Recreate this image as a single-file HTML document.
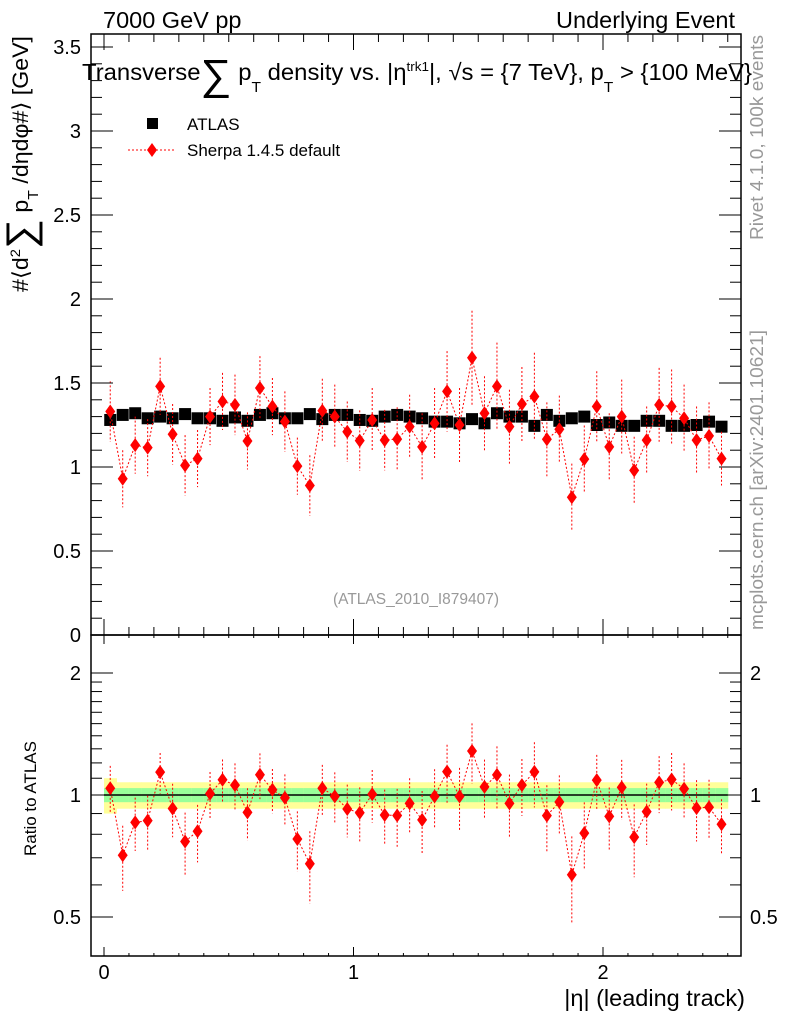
<!DOCTYPE html>
<html><head><meta charset="utf-8"><style>
body{margin:0;background:#fff}
svg{display:block;font-family:"Liberation Sans",sans-serif}
</style></head><body>
<svg id="c" width="786" height="1024" viewBox="0 0 786 1024" xmlns="http://www.w3.org/2000/svg">
<text x="103" y="28" font-size="23.5">7000 GeV pp</text>
<text x="735" y="28" font-size="23.5" text-anchor="end">Underlying Event</text>
<text x="82" y="80" font-size="23" textLength="670" lengthAdjust="spacingAndGlyphs">Transverse<tspan font-size="42" dy="9">∑</tspan><tspan dy="-9"> p</tspan><tspan font-size="15" dy="12">T</tspan><tspan dy="-12"> density vs. |η</tspan><tspan font-size="13" dy="-9">trk1</tspan><tspan dy="9">|, √s = {7 TeV}, p</tspan><tspan font-size="15" dy="12">T</tspan><tspan dy="-12"> &gt; {100 MeV}</tspan></text>
<text transform="translate(28,292) rotate(-90)" font-size="22" textLength="256" lengthAdjust="spacingAndGlyphs">#⟨d<tspan font-size="14" dy="-8">2</tspan><tspan font-size="40" dy="14">∑</tspan><tspan dy="-6"> p</tspan><tspan font-size="15" dy="10">T</tspan><tspan dy="-10"> /dηdφ#⟩ [GeV]</tspan></text>
<text transform="translate(36,856) rotate(-90)" font-size="17">Ratio to ATLAS</text>
<text x="745" y="1006" font-size="23.5" text-anchor="end">|η| (leading track)</text>
<text transform="translate(763,240) rotate(-90)" font-size="18.5" fill="#999" textLength="205" lengthAdjust="spacingAndGlyphs">Rivet 4.1.0,  100k events</text>
<text transform="translate(763,630) rotate(-90)" font-size="18.5" fill="#999" textLength="300" lengthAdjust="spacingAndGlyphs">mcplots.cern.ch [arXiv:2401.10621]</text>
<text x="416" y="604" font-size="15.5" fill="#999" text-anchor="middle">(ATLAS_2010_I879407)</text>
<g>
<rect x="147" y="118" width="11" height="11" fill="#000"/>
<text x="187" y="130" font-size="17">ATLAS</text>
<line x1="128" y1="150" x2="176" y2="150" stroke="red" stroke-dasharray="2,2"/>
<path d="M152,143 L157,150 L152,157 L147,150Z" fill="red"/>
<text x="187" y="156" font-size="17">Sherpa 1.4.5 default</text>
</g>
<g id="main"></g><g id="ratio"></g>
</svg>
<script>
const etaCenters=[0.025,0.075,0.125,0.175,0.225,0.275,0.325,0.375,0.425,0.475,0.525,0.575,0.625,0.675,0.725,0.775,0.825,0.875,0.925,0.975,1.025,1.075,1.125,1.175,1.225,1.275,1.325,1.375,1.425,1.475,1.525,1.575,1.625,1.675,1.725,1.775,1.825,1.875,1.925,1.975,2.025,2.075,2.125,2.175,2.225,2.275,2.325,2.375,2.425,2.475];
const atlasVals=[1.28,1.31,1.32,1.29,1.30,1.29,1.315,1.29,1.29,1.275,1.295,1.275,1.31,1.32,1.29,1.29,1.315,1.285,1.31,1.31,1.28,1.275,1.30,1.31,1.30,1.29,1.27,1.27,1.26,1.285,1.26,1.32,1.30,1.30,1.245,1.31,1.275,1.29,1.30,1.25,1.265,1.245,1.245,1.275,1.275,1.245,1.245,1.25,1.27,1.24];
const atlasErr=[0.02,0.02,0.02,0.02,0.02,0.02,0.02,0.02,0.02,0.02,0.02,0.02,0.02,0.02,0.02,0.02,0.02,0.02,0.02,0.02,0.02,0.02,0.02,0.02,0.02,0.02,0.02,0.02,0.02,0.02,0.02,0.02,0.02,0.02,0.02,0.02,0.02,0.02,0.02,0.02,0.02,0.02,0.02,0.02,0.02,0.02,0.02,0.02,0.02,0.02];
const sherpaVals=[1.33,0.93,1.13,1.115,1.48,1.195,1.01,1.05,1.30,1.39,1.37,1.155,1.47,1.36,1.27,1.005,0.89,1.335,1.30,1.21,1.157,1.28,1.16,1.166,1.24,1.12,1.26,1.45,1.25,1.65,1.32,1.48,1.24,1.375,1.42,1.165,1.225,0.82,1.047,1.36,1.12,1.30,0.98,1.16,1.37,1.36,1.29,1.16,1.185,1.05];
const sherpaErr=[0.18,0.17,0.17,0.17,0.17,0.18,0.18,0.17,0.17,0.17,0.18,0.17,0.19,0.17,0.18,0.17,0.18,0.19,0.19,0.18,0.18,0.19,0.18,0.19,0.19,0.2,0.21,0.24,0.22,0.28,0.22,0.26,0.22,0.22,0.26,0.22,0.2,0.2,0.2,0.21,0.2,0.22,0.2,0.2,0.22,0.22,0.2,0.2,0.2,0.16];
const yTicks=["0","0.5","1","1.5","2","2.5","3","3.5"];
const yTickVals=[0,0.5,1,1.5,2,2.5,3,3.5];
const rTickVals=[0.5,1,2];
const rTickLabels=["0.5","1","2"];
const xTickVals=[0,1,2];
const xTickLabels=["0","1","2"];
const NS="http://www.w3.org/2000/svg";
const L=91,R=741,T=34,MB=635,RB=956;
const X=v=>104+v*249.5;
const Y=v=>635-v*168;
const RY=r=>795-176*Math.log(r);
function mk(tag,attrs,parent){const e=document.createElementNS(NS,tag);for(const k in attrs)e.setAttribute(k,attrs[k]);parent.appendChild(e);return e;}
const svg=document.getElementById('c');
const main=document.getElementById('main'),ratio=document.getElementById('ratio');
const bw=0.05;
etaCenters.forEach((x,i)=>{
 const ye=(i==0?0.1:0.075),ge=0.04;
 const y=mk('rect',{x:X(x-bw/2),y:RY(1+ye),width:X(bw)-X(0)+0.5,height:RY(1-ye)-RY(1+ye),fill:'#ffff99'},ratio);
 
 
 const g=mk('rect',{x:X(x-bw/2),y:RY(1+ge),width:X(bw)-X(0)+0.5,height:RY(1-ge)-RY(1+ge),fill:'#99ff99'},ratio);
 
 
});
const ref=mk('line',{x1:X(0),y1:RY(1),x2:X(2.5),y2:RY(1),stroke:'#000','stroke-width':1.5},ratio);


[[T,MB,16,8],[MB,RB,9,3]].forEach(([t,b,ML,ml],k)=>{
 const f=mk('rect',{x:L,y:t,width:R-L,height:b-t,fill:'none',stroke:'#000','stroke-width':1.5},svg);
 
 
 for(let i=0;i<=25;i++){const v=i/10;const len=(i%10==0)?ML:ml;const xx=X(v);
  mk('line',{x1:xx,y1:b,x2:xx,y2:b-len,stroke:'#000'},svg);
  mk('line',{x1:xx,y1:t,x2:xx,y2:t+len,stroke:'#000'},svg);}
});
xTickVals.forEach((v,i)=>{const t=mk('text',{x:X(v),y:979,'font-size':20,'text-anchor':'middle'},svg);t.textContent=xTickLabels[i];
 
 });
for(let i=0;i<=35;i++){const v=i/10;const len=(i%5==0)?22:11;const yy=Y(v);
 mk('line',{x1:L,y1:yy,x2:L+len,y2:yy,stroke:'#000'},svg);
 mk('line',{x1:R,y1:yy,x2:R-len,y2:yy,stroke:'#000'},svg);}
yTickVals.forEach((v,i)=>{const t=mk('text',{x:81,y:Y(v)+7,'font-size':20,'text-anchor':'end'},svg);t.textContent=yTicks[i];
 
 });
[0.5,0.6,0.7,0.8,0.9,1,1.1,1.2,1.3,1.4,1.5,1.6,1.7,1.8,1.9,2].forEach(r=>{const yy=RY(r);const len=(r==0.5||r==1||r==2)?22:11;
 mk('line',{x1:L,y1:yy,x2:L+len,y2:yy,stroke:'#000'},svg);
 mk('line',{x1:R,y1:yy,x2:R-len,y2:yy,stroke:'#000'},svg);});
rTickVals.forEach((r,i)=>{
 const a=mk('text',{x:81,y:RY(r)+7,'font-size':20,'text-anchor':'end'},svg);a.textContent=rTickLabels[i];
 
 
 const b=mk('text',{x:750,y:RY(r)+7,'font-size':20},svg);b.textContent=rTickLabels[i];
 
 });
function drawSeries(par,yf,vals,errs,name){
 const pts=etaCenters.map((x,i)=>X(x)+','+yf(vals[i])).join(' ');
 const pl=mk('polyline',{points:pts,fill:'none',stroke:'red','stroke-dasharray':'2,2'},par);
 
 
 etaCenters.forEach((x,i)=>{const xx=X(x);const y1=yf(vals[i]+errs[i]),y2=yf(Math.max(vals[i]-errs[i],0.01));
  const e=mk('line',{x1:xx,y1:y1,x2:xx,y2:y2,stroke:'red','stroke-dasharray':'2,2'},par);
  
  
  const yy=yf(vals[i]);
  const d=mk('path',{d:`M${xx},${yy-7}L${xx+5},${yy}L${xx},${yy+7}L${xx-5},${yy}Z`,fill:'red'},par);
  
  });
}
etaCenters.forEach((x,i)=>{const s=mk('rect',{x:X(x)-6,y:Y(atlasVals[i])-6,width:12,height:12,fill:'#000'},main);
 
 });
drawSeries(main,Y,sherpaVals,sherpaErr,'sherpa');
const rv=sherpaVals.map((v,i)=>v/atlasVals[i]);
const re=sherpaErr.map((e,i)=>e/atlasVals[i]);
drawSeries(ratio,RY,rv,re,'sherpa-ratio');
</script>
</body></html>
